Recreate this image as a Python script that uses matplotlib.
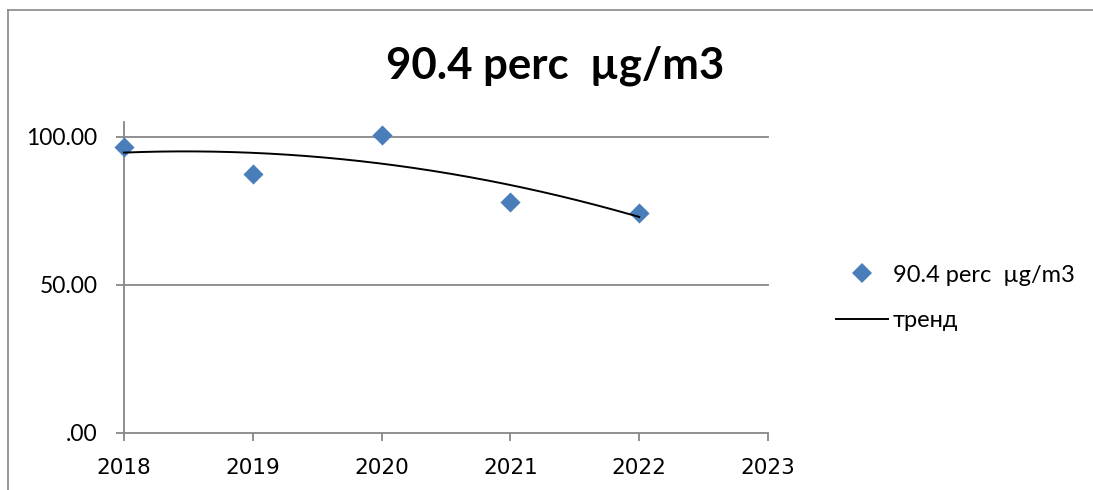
import matplotlib.pyplot as plt
import numpy as np
from matplotlib.lines import Line2D

# concentration by year
years = [2018, 2019, 2020, 2021, 2022]
values = [96.6, 87.4, 100.5, 78.0, 74.1]
y_ticks = [0, 50, 100]
y_tick_labels = [".00", "50.00", "100.00"]
x_ticks = [2018, 2019, 2020, 2021, 2022, 2023]

series_name = "90.4 perc  µg/m3"
trend_name = "тренд"

W, H = 1093, 490
fig = plt.figure(figsize=(W / 100, H / 100), dpi=100)
plt.rcParams["font.family"] = ["Lato", "DejaVu Sans"]

grey = "#878787"
blue = "#4A7EBB"

# plot area placed in pixel terms
left, right = 124 / W, 768 / W
bottom, top = 1 - 432.5 / H, 1 - 122 / H
ax = fig.add_axes([left, bottom, right - left, top - bottom])

ax.scatter(years, values, marker="D", s=105, color=blue, linewidths=0,
           zorder=3, clip_on=False)

# second order polynomial trend
coef = np.polyfit(years, values, 2)
xs = np.linspace(years[0], years[-1], 200)
ax.plot(xs, np.polyval(coef, xs), color="black", lw=1.4, zorder=4, clip_on=False)

ax.set_xlim(2018, 2023)
ax.set_ylim(0, 100 * (432.5 - 122) / (432.5 - 136.7))
ax.set_xticks(x_ticks)
ax.set_xticklabels([str(x) for x in x_ticks],
                   family=["Liberation Sans Narrow", "DejaVu Sans"], fontsize=15.5)
ax.set_yticks(y_ticks)
ax.set_yticklabels(y_tick_labels, fontsize=16.5)

for s in ["top", "right"]:
    ax.spines[s].set_visible(False)
for s in ["left", "bottom"]:
    ax.spines[s].set_color(grey)
    ax.spines[s].set_linewidth(1.3)
ax.tick_params(axis="both", direction="out", length=6, width=1.3, color=grey,
               labelcolor="black")
ax.tick_params(axis="x", pad=12)
ax.tick_params(axis="y", pad=13)
for y in [50, 100]:
    ax.axhline(y, color=grey, lw=1.3, zorder=1, clip_on=False)

fig.text(555 / W, 1 - 66 / H, series_name, ha="center", va="center",
         fontsize=31.5, fontweight="bold")

handles = [
    Line2D([], [], marker="D", color=blue, ls="none", markersize=10, markeredgewidth=0),
    Line2D([], [], color="black", lw=1.4),
]
fig.legend(handles, [series_name, trend_name], loc="center left",
           bbox_to_anchor=(815 / W, 1 - 298 / H), frameon=False, fontsize=17,
           handlelength=2.2, handletextpad=0.2, labelspacing=1.05)

# outer chart frame
fx, fy = 8 / W, 1 - 10 / H
fig.add_artist(Line2D([fx, fx], [0, fy], color=grey, lw=1.2))
fig.add_artist(Line2D([fx, 1], [fy, fy], color=grey, lw=1.2))

fig.savefig("out.png", dpi=100)
